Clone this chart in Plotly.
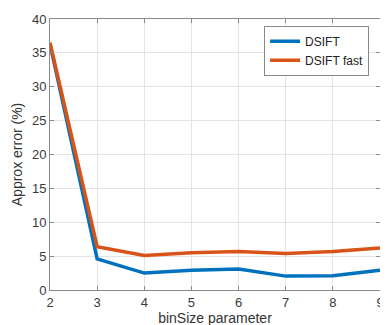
import plotly.graph_objects as go

bin_size = [2, 3, 4, 5, 6, 7, 8, 9]
dsift = [36.3, 4.6, 2.5, 2.9, 3.1, 2.05, 2.1, 2.9]
dsift_fast = [36.5, 6.4, 5.1, 5.5, 5.7, 5.4, 5.7, 6.2]

fig = go.Figure()
fig.add_trace(go.Scatter(x=bin_size, y=dsift, mode="lines", name="DSIFT",
                         line=dict(color="#0072BD", width=3.5)))
fig.add_trace(go.Scatter(x=bin_size, y=dsift_fast, mode="lines", name="DSIFT fast",
                         line=dict(color="#D95319", width=3.5)))

axis_common = dict(showline=True, linecolor="#8a8a8a", linewidth=1, mirror="ticks",
                   ticks="inside", ticklen=4, tickcolor="#8a8a8a",
                   showgrid=True, gridcolor="#e4e4e4", gridwidth=1,
                   zeroline=False, tickfont=dict(size=13, color="#3a3a3a"))

fig.update_layout(
    width=380, height=319,
    margin=dict(l=42, r=4, t=8, b=37),
    paper_bgcolor="white", plot_bgcolor="white",
    font=dict(family="Liberation Sans, Arial, sans-serif", color="#333333"),
    xaxis=dict(range=[2, 9], dtick=1, title=dict(text="binSize parameter", font=dict(size=14), standoff=4), **axis_common),
    yaxis=dict(range=[0, 40], dtick=5, title=dict(text="Approx error (%)", font=dict(size=14), standoff=6), **axis_common),
    legend=dict(x=0.967, y=0.975, xanchor="right", yanchor="top",
                bgcolor="white", bordercolor="#8a8a8a", borderwidth=1,
                font=dict(size=12, color="#222222"), tracegroupgap=0),
    showlegend=True,
)

fig.write_html("out.html")
